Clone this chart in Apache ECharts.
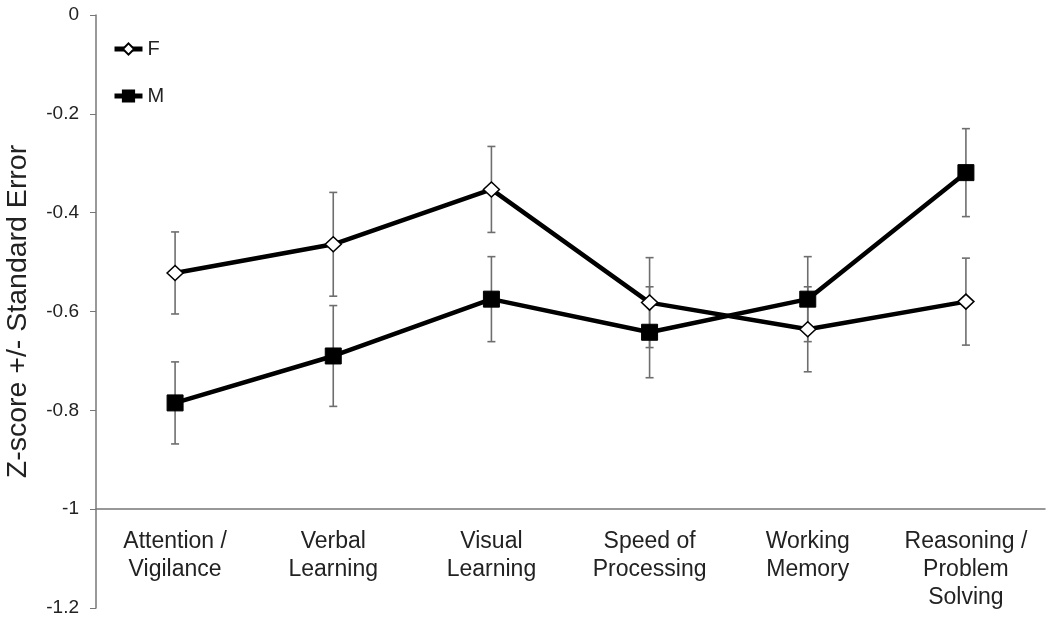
<!DOCTYPE html>
<html>
<head>
<meta charset="utf-8">
<script src="https://cdn.jsdelivr.net/npm/echarts@6/dist/echarts.min.js"></script>
<style>
  html, body { margin: 0; padding: 0; background: #fff; }
  #chart { width: 1050px; height: 624px; }
</style>
</head>
<body>
<div id="chart"></div>
<script>
// domains on the x axis
const categories = ['Attention /\nVigilance', 'Verbal\nLearning', 'Visual\nLearning', 'Speed of\nProcessing', 'Working\nMemory', 'Reasoning /\nProblem\nSolving']
// mean z-scores and standard errors
const fMeans = [-0.522, -0.464, -0.353, -0.582, -0.636, -0.580]
const fErr = [0.083, 0.105, 0.087, 0.091, 0.086, 0.088]
const mMeans = [-0.785, -0.690, -0.575, -0.642, -0.575, -0.319]
const mErr = [0.083, 0.102, 0.086, 0.092, 0.086, 0.089]

const FONT = '"Liberation Sans", Arial, sans-serif'

function errData (means, errs) {
  return means.map((v, i) => [i, v - errs[i], v + errs[i]])
}

function renderErr (params, api) {
  const lo = api.coord([api.value(0), api.value(1)])
  const hi = api.coord([api.value(0), api.value(2)])
  const cap = 4
  const style = { stroke: '#6e6e6e', lineWidth: 1.6 }
  return {
    type: 'group',
    children: [
      { type: 'line', shape: { x1: lo[0], y1: lo[1], x2: hi[0], y2: hi[1] }, style: style },
      { type: 'line', shape: { x1: lo[0] - cap, y1: lo[1], x2: lo[0] + cap, y2: lo[1] }, style: style },
      { type: 'line', shape: { x1: hi[0] - cap, y1: hi[1], x2: hi[0] + cap, y2: hi[1] }, style: style }
    ]
  }
}

const chart = echarts.init(document.getElementById('chart'))
const option = {
  animation: false,
  textStyle: { fontFamily: FONT },
  // grid 0: the plot with the full y range; grid 1: only carries the category axis at -1
  grid: [
    { left: 96, right: 5, top: 15, bottom: 16, outerBoundsMode: 'none' },
    { left: 96, right: 5, top: 15, bottom: 115, outerBoundsMode: 'none' }
  ],
  legend: {
    orient: 'vertical',
    left: 107,
    top: 34,
    itemGap: 27,
    itemWidth: 28,
    itemHeight: 14,
    data: ['F', 'M'],
    lineStyle: { width: 5 },
    textStyle: { fontSize: 20, color: '#222', fontFamily: FONT }
  },
  xAxis: [
    {
      type: 'category',
      gridIndex: 0,
      data: categories,
      show: false
    },
    {
      type: 'category',
      gridIndex: 1,
      data: categories,
      axisLine: { lineStyle: { color: '#777', width: 1.5 } },
      axisTick: { length: 5, lineStyle: { color: '#777' } },
      axisLabel: {
        interval: 0,
        margin: 19,
        fontSize: 23,
        lineHeight: 28,
        color: '#222',
        fontFamily: FONT
      }
    }
  ],
  yAxis: [
    {
      type: 'value',
      gridIndex: 0,
      min: -1.2,
      max: 0,
      interval: 0.2,
      name: 'Z-score +/- Standard Error',
      nameLocation: 'middle',
      nameRotate: 90,
      nameGap: 63,
      nameTextStyle: { fontSize: 28.5, color: '#222', fontFamily: FONT },
      splitLine: { show: false },
      axisLine: { show: true, lineStyle: { color: '#777', width: 1.5 } },
      axisTick: { show: true, length: 6, lineStyle: { color: '#777' } },
      axisLabel: {
        fontSize: 19,
        color: '#222',
        margin: 17,
        fontFamily: FONT,
        formatter: v => String(Math.round(v * 10) / 10)
      }
    },
    {
      type: 'value',
      gridIndex: 1,
      show: false,
      splitLine: { show: false }
    }
  ],
  series: [
    {
      type: 'custom',
      name: 'F err',
      renderItem: renderErr,
      data: errData(fMeans, fErr),
      z: 1,
      silent: true
    },
    {
      type: 'custom',
      name: 'M err',
      renderItem: renderErr,
      data: errData(mMeans, mErr),
      z: 1,
      silent: true
    },
    {
      name: 'F',
      type: 'line',
      data: fMeans,
      z: 3,
      symbol: 'diamond',
      symbolSize: [16, 15],
      lineStyle: { color: '#000', width: 4.5 },
      itemStyle: { color: '#fff', borderColor: '#000', borderWidth: 1.5 }
    },
    {
      name: 'M',
      type: 'line',
      data: mMeans,
      z: 3,
      symbol: 'rect',
      symbolSize: 16,
      lineStyle: { color: '#000', width: 4.5 },
      itemStyle: { color: '#000', borderColor: '#000', borderWidth: 1 }
    }
  ]
}
chart.setOption(option)
</script>
</body>
</html>
